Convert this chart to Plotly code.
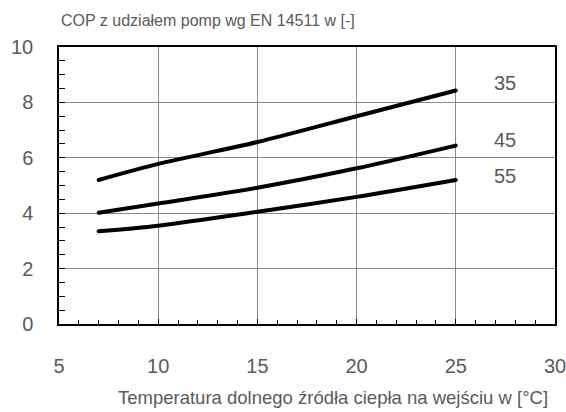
import plotly.graph_objects as go

x_vals = [7, 10, 15, 20, 25]
cop_35 = [5.2, 5.78, 6.57, 7.5, 8.43]
cop_45 = [4.02, 4.35, 4.92, 5.62, 6.44]
cop_55 = [3.35, 3.55, 4.05, 4.59, 5.2]
series_labels = ["35", "45", "55"]
label_x = 27.5
label_y = [8.7, 6.63, 5.36]

title_text = "COP z udziałem pomp wg EN 14511 w [-]"
xtitle_text = "Temperatura dolnego źródła ciepła na wejściu w [°C]"

FONT = "Liberation Sans"
TXT = "#5a5a5a"

fig = go.Figure()
for ys in [cop_35, cop_45, cop_55]:
    fig.add_trace(go.Scatter(
        x=x_vals, y=ys, mode="lines",
        line=dict(color="black", width=4, shape="spline", smoothing=0.8),
        showlegend=False, hoverinfo="skip"))
    fig.add_trace(go.Scatter(
        x=[x_vals[0], x_vals[-1]], y=[ys[0], ys[-1]], mode="markers",
        marker=dict(color="black", size=4), showlegend=False, hoverinfo="skip"))

for lab, ly in zip(series_labels, label_y):
    fig.add_annotation(x=label_x, y=ly, text=lab, showarrow=False,
                       font=dict(family=FONT, size=20, color=TXT),
                       xanchor="center", yanchor="middle")

fig.add_annotation(xref="paper", yref="paper", x=0.0, y=1.097, text=title_text,
                   showarrow=False, xanchor="left", yanchor="middle",
                   font=dict(family=FONT, size=16, color=TXT))
fig.add_annotation(xref="paper", yref="paper", x=0.99, y=-0.267, text=xtitle_text,
                   showarrow=False, xanchor="right", yanchor="middle",
                   font=dict(family=FONT, size=18.5, color=TXT))

fig.update_layout(
    width=566, height=412,
    margin=dict(l=59, r=11, t=47, b=88, autoexpand=False),
    paper_bgcolor="white", plot_bgcolor="white",
    font=dict(family=FONT, color=TXT),
)
fig.update_xaxes(
    range=[5, 30], dtick=5, tick0=5, automargin=False,
    ticklabeloverflow="allow",
    showgrid=True, gridcolor="#8a8a8a", gridwidth=1,
    showline=True, linecolor="black", linewidth=1.5, mirror=True,
    ticks="inside", ticklen=5, tickcolor="black",
    ticklabelstandoff=23,
    tickfont=dict(family=FONT, size=20, color=TXT),
    minor=dict(dtick=1, ticks="inside", ticklen=4, tickcolor="black", showgrid=False),
    zeroline=False,
)
fig.update_yaxes(
    range=[0, 10], dtick=2, automargin=False,
    ticklabeloverflow="allow",
    showgrid=True, gridcolor="#8a8a8a", gridwidth=1,
    showline=True, linecolor="black", linewidth=1.5, mirror=True,
    ticks="inside", ticklen=6, tickcolor="black",
    ticklabelstandoff=20,
    tickfont=dict(family=FONT, size=20, color=TXT),
    minor=dict(dtick=0.5, ticks="inside", ticklen=6, tickcolor="black", showgrid=False),
    zeroline=False,
)

fig.write_html(
    "out.html",
    config={"displayModeBar": False, "responsive": False},
    post_script="document.body.style.margin='0';document.body.style.overflow='hidden';",
)
